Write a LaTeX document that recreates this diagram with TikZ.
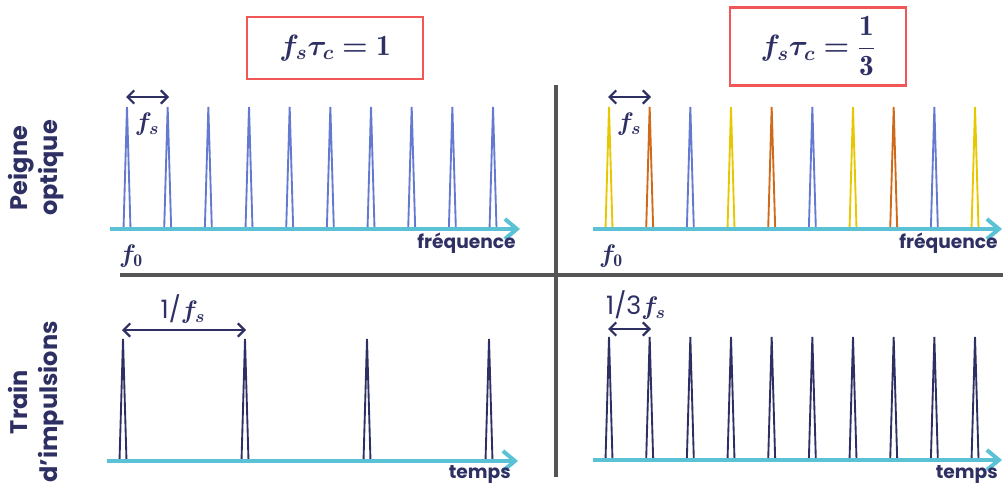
\RequirePackage{fix-cm}
\documentclass[tikz,border=0pt]{standalone}
\usepackage{amsmath}
\usepackage{bm}
\usepackage{fontspec}
\setsansfont{Poppins}
\usetikzlibrary{arrows.meta}
\definecolor{navy}{RGB}{46,48,99}
\definecolor{axiscyan}{RGB}{91,194,214}
\definecolor{spblue}{RGB}{100,122,208}
\definecolor{spyellow}{RGB}{230,200,0}
\definecolor{sporange}{RGB}{206,106,26}
\definecolor{boxred}{RGB}{242,87,87}
\definecolor{divgray}{RGB}{85,85,85}
\newcommand{\bfs}{\bm{f}_{\bm{s}}}
\tikzset{
  spikeline/.style={line width=1.4pt, line join=miter},
  axisline/.style={draw=axiscyan, line width=3pt, -{Straight Barb[length=9pt,width=15pt]}},
  dblarrow/.style={draw=navy, line width=1.6pt, {Straight Barb[length=5pt,width=10pt]}-{Straight Barb[length=5pt,width=10pt]}},
  divider/.style={draw=divgray, line width=2.4pt},
  titlebox/.style={draw=boxred, line width=2.2pt, minimum width=132pt, inner sep=0pt, text=navy, font=\fontsize{22}{26}\selectfont},
  rowlabel/.style={rotate=90, align=center, text=navy, font=\sffamily\bfseries\fontsize{18}{22.5}\selectfont},
  axislabel/.style={text=navy, inner sep=0pt, font=\sffamily\bfseries\fontsize{14}{16}\selectfont},
  mathlabel/.style={text=navy, inner sep=0pt, font=\fontsize{19}{22}\selectfont}
}
\begin{document}
\begin{tikzpicture}[x=0.75pt,y=-0.75pt]
\useasboundingbox (0,0) rectangle (1003,485);

% title boxes
\node[titlebox, minimum height=46.5pt] (boxL) at (335,48) {$\bfs\bm{\tau}_{\bm{c}} \bm{=} \mathbf{1}$};
\node[titlebox, minimum height=58pt] (boxR) at (818,46.5) {$\bfs\bm{\tau}_{\bm{c}} \bm{=} \dfrac{\mathbf{1}}{\mathbf{3}}$};

% row labels
\node[rowlabel] (rowTop) at (36,168) {Peigne\\optique};
\node[rowlabel] (rowBot) at (36,402) {Train\\d'impulsions};

% dividers
\coordinate (vdTop) at (556,85);
\coordinate (vdBot) at (556,477);
\coordinate (hdL) at (120,275);
\coordinate (hdR) at (1003,275);
\draw[divider] (vdTop) -- (vdBot);
\draw[divider] (hdL) -- (hdR);

% top-left spikes
\foreach \i in {0,...,9} {
  \pgfmathsetmacro{\xx}{127+40.67*\i}
  \draw[spikeline, draw=spblue] (\xx-3.5,229) -- (\xx,107) -- (\xx+3.5,229);
}
% top-right spikes
\foreach \i/\c in {0/spyellow,1/sporange,2/spblue,3/spyellow,4/sporange,5/spblue,6/spyellow,7/sporange,8/spblue,9/spyellow} {
  \pgfmathsetmacro{\xx}{609+40.67*\i}
  \draw[spikeline, draw=\c] (\xx-3.5,229) -- (\xx,107) -- (\xx+3.5,229);
}
% bottom-left pulses
\foreach \i in {0,...,3} {
  \pgfmathsetmacro{\xx}{123+122*\i}
  \draw[spikeline, draw=navy] (\xx-3.5,461) -- (\xx,339) -- (\xx+3.5,461);
}
% bottom-right pulses
\foreach \i in {0,...,9} {
  \pgfmathsetmacro{\xx}{609+40.67*\i}
  \draw[spikeline, draw=navy] (\xx-3.5,460) -- (\xx,337) -- (\xx+3.5,460);
}

% axes
\coordinate (axTLs) at (110,229); \coordinate (axTLe) at (520,229);
\coordinate (axTRs) at (593,229); \coordinate (axTRe) at (1002,229);
\coordinate (axBLs) at (107,461); \coordinate (axBLe) at (518,461);
\coordinate (axBRs) at (593,460); \coordinate (axBRe) at (1002,460);
\draw[axisline] (axTLs) -- (axTLe);
\draw[axisline] (axTRs) -- (axTRe);
\draw[axisline] (axBLs) -- (axBLe);
\draw[axisline] (axBRs) -- (axBRe);

% spacing arrows
\coordinate (fsL1) at (126,97); \coordinate (fsL2) at (169,97);
\coordinate (fsR1) at (608,97); \coordinate (fsR2) at (651,97);
\coordinate (tL1) at (122,330); \coordinate (tL2) at (246,330);
\coordinate (tR1) at (608,329); \coordinate (tR2) at (651,329);
\draw[dblarrow] (fsL1) -- (fsL2);
\draw[dblarrow] (fsR1) -- (fsR2);
\draw[dblarrow] (tL1) -- (tL2);
\draw[dblarrow] (tR1) -- (tR2);

% labels
\node[mathlabel] (fsL) at (147,124) {$\bfs$};
\node[mathlabel] (fsR) at (629,124) {$\bfs$};
\node[mathlabel] (f0L) at (131,256) {$\bm{f}_{\mathbf{0}}$};
\node[mathlabel] (f0R) at (611,256) {$\bm{f}_{\mathbf{0}}$};
\node[mathlabel] (perL) at (183,309) {\textsf{\mdseries 1/}$\bfs$};
\node[mathlabel] (perR) at (636,305) {\textsf{\mdseries 1/3}$\bfs$};
\node[axislabel, anchor=east] (freqL) at (516,243) {fréquence};
\node[axislabel, anchor=east] (freqR) at (998,243) {fréquence};
\node[axislabel, anchor=east] (tempsL) at (511,475) {temps};
\node[axislabel, anchor=east] (tempsR) at (998,475) {temps};
\end{tikzpicture}
\end{document}
